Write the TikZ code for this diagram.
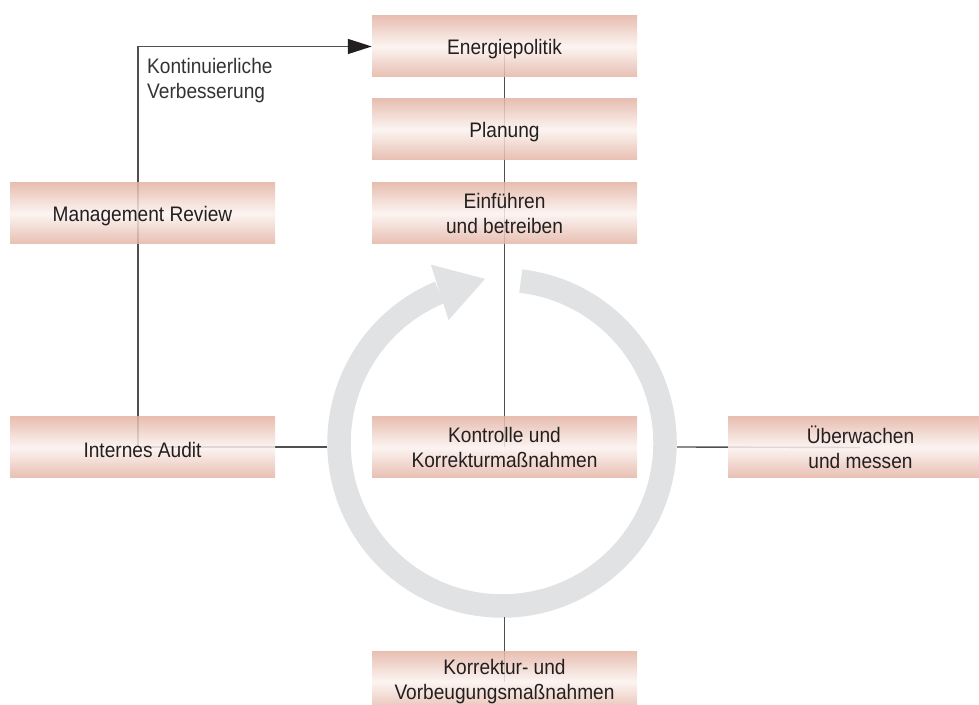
\documentclass[tikz,border=0pt]{standalone}
\usepackage{fontspec}
\setmainfont{Liberation Sans}[FakeStretch=0.91]
\usepackage{xcolor}
\usepackage{tikz}
\usetikzlibrary{arrows.meta,calc,backgrounds}

\definecolor{boxedge}{HTML}{E4B4A4}
\definecolor{boxmid}{HTML}{FBF2EF}
\definecolor{ringgray}{HTML}{E1E2E4}
\definecolor{linegray}{HTML}{4F4F4F}
\definecolor{textdark}{HTML}{231F20}

\begin{document}
\begin{tikzpicture}[x=1pt,y=1pt,
  every node/.style={font=\fontsize{21}{25}\selectfont, text=textdark},
  phase/.style={minimum width=265pt, minimum height=61pt, inner sep=0pt, align=center,
    top color=boxedge, bottom color=boxedge, middle color=boxmid,
    fill opacity=0.85, text opacity=1,
    execute at begin node={\rule{0pt}{21pt}}},
  link/.style={draw=linegray, line width=1.4pt}]
  \clip (0,0) rectangle (979,704);
  % Phases
  \node[phase] (energie) at (504.5,657.5) {Energiepolitik};
  \node[phase] (planung) at (504.5,574.5) {Planung};
  \node[phase] (einfuehren) at (504.5,490.5) {Einführen\\und betreiben};
  \node[phase] (review) at (142.5,490.5) {Management Review};
  \node[phase] (audit) at (142.5,256.5) {Internes Audit};
  \node[phase] (kontrolle) at (504.5,256.5) {Kontrolle und\\Korrekturmaßnahmen};
  \node[phase] (ueberwachen) at (860.5,256.5) {Überwachen\\und messen};
  \node[phase] (korrektur) at (504.5,22.5) {Korrektur- und\\Vorbeugungsmaßnahmen};
  % Label
  \node[anchor=north west, align=left, inner sep=0pt, text=black!80] (kvlabel) at (147,646)
    {Kontinuierliche\\Verbesserung};
  \begin{scope}[on background layer]
    % Ring
    \coordinate (C) at (502,261);
    \draw[ringgray, line width=23.5pt] ([shift={(C)}]83.4:163)
      arc[start angle=83.4, end angle=-247.5, radius=163];
    \fill[ringgray] ([shift={(C)}]113.5:134) -- ([shift={(C)}]111.75:192)
      -- ([shift={(C)}]95.9:165) -- cycle;
    % Ring edge points
    \coordinate (ringW) at (327,257);
    \coordinate (ringE) at (677,257);
    \coordinate (ringS) at (504.5,87);
    \coordinate (auditcorner) at (138,257);
    % Connectors
    \draw[link] (energie.center) -- (kontrolle.center);
    \draw[link] (ringS) -- (korrektur.center);
    \draw[link] (auditcorner) -- (ringW);
    \draw[link] (ringE) -- (ueberwachen.center);
    \draw[link, -{Triangle[length=24pt,width=15pt,color=textdark]}] (auditcorner) |- (energie.west);
  \end{scope}
\end{tikzpicture}
\end{document}
